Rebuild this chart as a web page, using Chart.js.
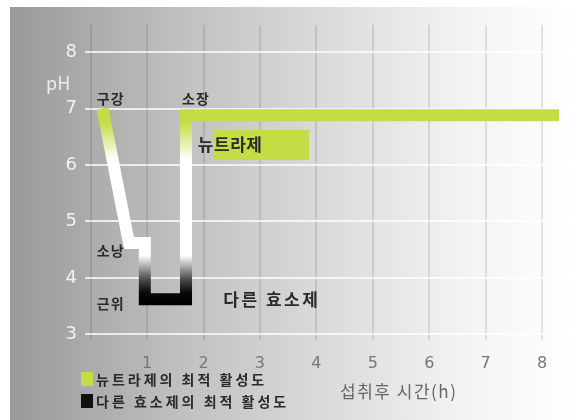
<!DOCTYPE html>
<html>
<head>
<meta charset="utf-8">
<script src="https://cdn.jsdelivr.net/npm/chart.js@4"></script>
<style>
  html, body { margin: 0; padding: 0; background: #fff; }
  canvas { display: block; }
</style>
</head>
<body>
<canvas id="phChart" width="576" height="420"></canvas>
<script>
// path of pH through the digestive tract (hours after intake, pH)
var hours = [0.21, 0.68, 0.96, 0.96, 1.69, 1.69, 8.3];
var phValues = [7.0, 4.62, 4.62, 3.62, 3.62, 6.88, 6.88];

var xTicks = [0, 1, 2, 3, 4, 5, 6, 7, 8];
var yTicks = [3, 4, 5, 6, 7, 8];

var organLabels = ["구강", "소장", "소낭", "근위"];
var organHours = [0.11, 1.62, 0.11, 0.11];
var organPh = [7.18, 7.18, 4.49, 3.55];

var legendLabels = ["뉴트라제의 최적 활성도", "다른 효소제의 최적 활성도"];
var legendColors = ["#c6dc45", "#111111"];

var KR = '"Noto Sans CJK KR", "Noto Sans", sans-serif';
var GREEN = "#c6dc45";

document.addEventListener("DOMContentLoaded", function () {
    var ctx = document.getElementById("phChart").getContext("2d");

    var points = hours.map(function (h, i) { return { x: h, y: phValues[i] }; });

    // grey-to-white background panel
    var backgroundPlugin = {
        id: "bgPanel",
        beforeDraw: function (chart) {
            var c = chart.ctx;
            c.save();
            c.fillStyle = "#ffffff";
            c.fillRect(0, 0, chart.width, chart.height);
            var g = c.createLinearGradient(10, 0, chart.width, 0);
            g.addColorStop(0, "#999999");
            g.addColorStop(0.3, "#c0c0c0");
            g.addColorStop(0.55, "#dadada");
            g.addColorStop(0.8, "#f3f3f3");
            g.addColorStop(1, "#ffffff");
            c.fillStyle = g;
            c.fillRect(10, 7, chart.width - 10, chart.height - 7);
            c.restore();
        }
    };

    // text labels, neutrase box, axis title and legend
    var labelPlugin = {
        id: "labels",
        afterDatasetsDraw: function (chart) {
            var c = chart.ctx;
            var xs = chart.scales.x;
            var ys = chart.scales.y;
            c.save();

            // neutrase optimum box
            var bx1 = xs.getPixelForValue(2.17), bx2 = xs.getPixelForValue(3.87);
            var by1 = ys.getPixelForValue(6.62), by2 = ys.getPixelForValue(6.09);
            c.fillStyle = GREEN;
            c.fillRect(bx1, by1, bx2 - bx1, by2 - by1);

            c.fillStyle = "#2a2a2a";
            c.textBaseline = "middle";
            c.textAlign = "left";
            c.font = "bold 17px " + KR;
            c.letterSpacing = "0.5px";
            c.fillText("뉴트라제", xs.getPixelForValue(1.9), ys.getPixelForValue(6.36));
            c.letterSpacing = "2.5px";
            c.fillText("다른 효소제", xs.getPixelForValue(2.35), ys.getPixelForValue(3.61));

            c.letterSpacing = "1px";
            c.font = "bold 14px " + KR;
            organLabels.forEach(function (t, i) {
                c.fillText(t, xs.getPixelForValue(organHours[i]), ys.getPixelForValue(organPh[i]));
            });

            // pH label
            c.letterSpacing = "0px";
            c.fillStyle = "rgba(255,255,255,0.8)";
            c.font = "18px " + KR;
            c.fillText("pH", 46, ys.getPixelForValue(7.45));

            // x axis title
            c.fillStyle = "#666666";
            c.font = "17px " + KR;
            c.letterSpacing = "1.5px";
            c.fillText("섭취후 시간(h)", xs.getPixelForValue(4.42), 392);

            // legend
            c.font = "bold 14px " + KR;
            c.letterSpacing = "3px";
            legendLabels.forEach(function (t, i) {
                var y = 379 + i * 22;
                c.fillStyle = legendColors[i];
                c.fillRect(81, y - 7, 12, 14);
                c.fillStyle = "#2a2a2a";
                c.fillText(t, 96, y + 1);
            });
            c.restore();
        }
    };

    new Chart(ctx, {
        type: "line",
        data: {
            datasets: [{
                data: points,
                borderWidth: 12,
                pointRadius: 0,
                tension: 0,
                borderJoinStyle: "miter",
                borderCapStyle: "butt",
                borderColor: function (context) {
                    var chart = context.chart;
                    if (!chart.chartArea) return GREEN;
                    var ys = chart.scales.y;
                    var top = ys.getPixelForValue(7.0);
                    var bottom = ys.getPixelForValue(3.6);
                    var g = chart.ctx.createLinearGradient(0, top, 0, bottom);
                    var f = function (ph) { return (7.0 - ph) / 3.4; };
                    g.addColorStop(0, GREEN);
                    g.addColorStop(f(6.75), GREEN);
                    g.addColorStop(f(6.1), "#ffffff");
                    g.addColorStop(f(4.4), "#ffffff");
                    g.addColorStop(f(4.0), "#555555");
                    g.addColorStop(f(3.75), "#0a0a0a");
                    g.addColorStop(1, "#000000");
                    return g;
                }
            }]
        },
        options: {
            responsive: false,
            animation: false,
            devicePixelRatio: 1,
            layout: { padding: { left: 10, top: 25, right: 0, bottom: 0 } },
            plugins: {
                legend: { display: false },
                tooltip: { enabled: false }
            },
            scales: {
                x: {
                    type: "linear",
                    min: -0.1,
                    max: 8.6,
                    afterBuildTicks: function (scale) {
                        scale.ticks = xTicks.map(function (v) { return { value: v }; });
                    },
                    afterFit: function (scale) { scale.height = 80; },
                    ticks: {
                        padding: 14,
                        color: "#777777",
                        font: { size: 16, family: "DejaVu Sans" },
                        callback: function (v) { return v === 0 ? "" : String(v); }
                    },
                    grid: { color: "rgba(0,0,0,0.1)", lineWidth: 2, drawTicks: false },
                    border: { display: false }
                },
                y: {
                    type: "linear",
                    min: 2.9,
                    max: 8.48,
                    afterBuildTicks: function (scale) {
                        scale.ticks = yTicks.map(function (v) { return { value: v }; });
                    },
                    afterFit: function (scale) { scale.width = 75; },
                    ticks: {
                        padding: 8,
                        color: "rgba(255,255,255,0.85)",
                        font: { size: 18, family: "DejaVu Sans" }
                    },
                    grid: { color: "rgba(255,255,255,0.75)", lineWidth: 2, drawTicks: false },
                    border: { display: false }
                }
            }
        },
        plugins: [backgroundPlugin, labelPlugin]
    });
});
</script>
</body>
</html>
